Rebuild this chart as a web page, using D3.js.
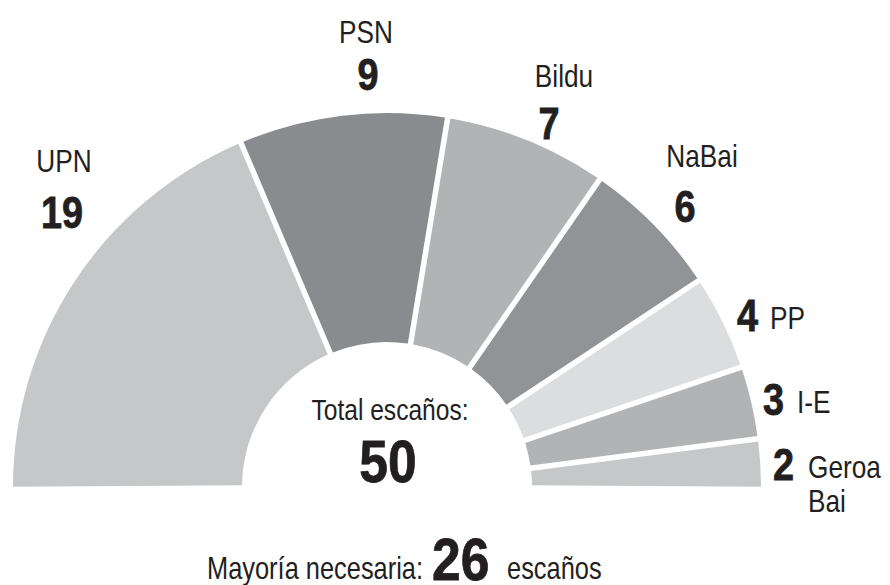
<!DOCTYPE html>
<html>
<head>
<meta charset="utf-8">
<script src="https://d3js.org/d3.v7.min.js"></script>
<style>
    body { margin: 0; background: #fff; }
    text { fill: #231f20; }
    .name {
        font-family: "Liberation Sans", Arial, sans-serif;
        font-size: 32px;
    }
    .num {
        font-family: "Liberation Sans", Arial, sans-serif;
        font-weight: bold;
        font-size: 44px;
        stroke: #231f20;
        stroke-width: 0.8px;
    }
</style>
</head>
<body>
<svg id="vis"></svg>
<script>
    var width = 890,
        height = 585;

    // seats per party (Parlamento de Navarra)
    var parties = ["UPN", "PSN", "Bildu", "NaBai", "PP", "I-E", "Geroa Bai"];
    var seats = [19, 9, 7, 6, 4, 3, 2];
    var colors = ["#c6c7c9", "#8a8b8e", "#b2b3b5", "#929397", "#dcdddf", "#b2b3b5", "#c6c7c9"];
    var totalSeats = 50;
    var majority = 26;

    var svg = d3.select("#vis").attr("width", width).attr("height", height);

    // hemicycle geometry
    var cx = 387, cy = 487,
        outerR = 374, innerR = 145,
        gap = 5.5;
    var pad = gap / Math.sqrt(innerR * innerR + outerR * outerR);

    var pie = d3.pie()
        .sort(null)
        .value(d => d.seats)
        .startAngle(-Math.PI / 2 - pad / 2)
        .endAngle(Math.PI / 2 + pad / 2)
        .padAngle(pad);

    var arc = d3.arc()
        .innerRadius(innerR)
        .outerRadius(outerR);

    var rows = parties.map((p, i) => ({ party: p, seats: seats[i], color: colors[i] }));

    var chart = svg.append("g").attr("transform", `translate(${cx},${cy})`);
    chart.selectAll("path")
        .data(pie(rows))
        .enter()
        .append("path")
        .attr("d", arc)
        .attr("fill", d => d.data.color);

    // clip anything below the baseline
    svg.append("rect")
        .attr("x", 0).attr("y", cy)
        .attr("width", width).attr("height", 3)
        .attr("fill", "#fff");

    // condensed text: squeeze horizontally around the anchor point
    var label = function (x, y, txt, cls, anchor, size, sx) {
        var t = svg.append("g")
            .attr("transform", `translate(${x},${y}) scale(${sx},1)`)
            .append("text")
            .attr("class", cls)
            .attr("text-anchor", anchor || "start")
            .text(txt);
        if (size) t.style("font-size", size + "px");
        return t;
    };
    var NX = 0.82, VX = 0.86;

    // stacked labels: name above, number below
    var stacked = [
        { i: 0, nx: 64, ny: 172, vx: 62, vy: 228 },
        { i: 1, nx: 366, ny: 43, vx: 368, vy: 90 },
        { i: 2, nx: 564, ny: 87, vx: 549, vy: 139 },
        { i: 3, nx: 702, ny: 167, vx: 685, vy: 222 }
    ];
    stacked.forEach(s => {
        label(s.nx, s.ny, parties[s.i], "name", "middle", null, NX);
        label(s.vx, s.vy, seats[s.i], "num", "middle", null, VX);
    });

    // inline labels: number then name
    var inline = [
        { i: 4, vx: 737, y: 331, nx: 770, lines: ["PP"] },
        { i: 5, vx: 763, y: 415, nx: 797, lines: ["I-E"] },
        { i: 6, vx: 773, y: 480, nx: 808, lines: ["Geroa", "Bai"] }
    ];
    inline.forEach(s => {
        label(s.vx, s.y, seats[s.i], "num", "start", null, VX);
        s.lines.forEach((l, k) => {
            label(s.nx, s.y - 2 + k * 34, l, "name", "start", null, NX);
        });
    });

    // centre
    label(390, 420, "Total escaños:", "name", "middle", 30, NX);
    label(388, 482, totalSeats, "num", "middle", 60, VX);

    // footer
    label(207, 579, "Mayoría necesaria:", "name", "start", 31, NX);
    label(432, 580, majority, "num", "start", 60, VX);
    label(507, 579, "escaños", "name", "start", 31, NX);
</script>
</body>
</html>
